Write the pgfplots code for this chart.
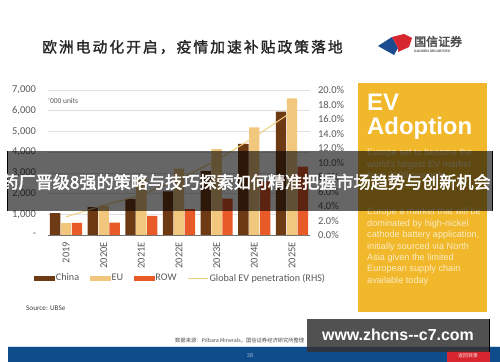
\documentclass[border=0pt]{standalone}
\usepackage{fontspec}
\setmainfont{Carlito}
\newfontfamily\arial{Liberation Sans}
\newfontfamily\cjk{Noto Sans CJK SC}
\newfontfamily\cjkb[FakeBold=2.5]{Noto Sans CJK SC}
\newfontfamily\cjkt[LetterSpace=14,FakeBold=1.6]{Noto Sans CJK SC}
\usepackage{pgfplots}
\pgfplotsset{compat=1.18}
\definecolor{china}{HTML}{6E3A14}
\definecolor{eu}{HTML}{F0C77D}
\definecolor{row}{HTML}{E85A28}
\definecolor{pen}{HTML}{F2D080}
\definecolor{tickgray}{HTML}{595959}
\definecolor{ybox}{HTML}{F0B82A}
\definecolor{ytext}{HTML}{FCEBC4}
\definecolor{footblue}{HTML}{0E4C8C}
\definecolor{logored}{HTML}{D7262E}
\definecolor{logoblue}{HTML}{1B4C8F}
\begin{document}
\begin{tikzpicture}
\useasboundingbox (0,0) rectangle (500bp,362bp);
\fill[white] (0,0) rectangle (500bp,362bp);
% title
\node[anchor=west, inner sep=0, text=black!85, font=\cjkt\fontsize{14.8}{16}\selectfont] at (42bp,315bp) {欧洲电动化开启，疫情加速补贴政策落地};
% logo
\fill[logoblue] (378bp,316bp) -- (392bp,325bp) -- (398bp,314bp) -- (394bp,307bp) -- cycle;
\fill[logored] (392bp,325bp) -- (404bp,328bp) -- (412bp,324bp) -- (409bp,315bp) -- (398bp,310bp) -- (398bp,314bp) -- cycle;
\node[anchor=west, inner sep=0, text=black!70, font=\cjkb\fontsize{12}{13}\selectfont] at (414bp,320.5bp) {国信证券};
\node[anchor=west, inner sep=0, text=black!70, font=\arial\bfseries\fontsize{3.4}{4}\selectfont] at (414bp,310.5bp) {GUOSEN SECURITIES};

% chart
\begin{axis}[
  at={(48bp,127bp)}, anchor=south west, scale only axis,
  width=262bp, height=145bp,
  xmin=-0.48, xmax=6.48, ymin=0, ymax=7000,
  axis x line*=bottom, axis y line*=left,
  y axis line style={draw=none},
  x axis line style={draw=black!55, line width=0.9pt},
  major tick length=0pt,
  ytick={0,1000,2000,3000,4000,5000,6000,7000},
  yticklabels={-,{1,000},{2,000},{3,000},{4,000},{5,000},{6,000},{7,000}},
  ymajorgrids, grid style={draw=black!12, line width=0.6pt},
  xtick={0,1,2,3,4,5,6},
  xticklabels={2019,2020E,2021E,2022E,2023E,2024E,2025E},
  xticklabel style={yshift=-3.5bp, rotate=90, anchor=east, font=\fontsize{10.5}{12}\selectfont, text=tickgray},
  yticklabel style={xshift=-8.5bp, font=\fontsize{10.5}{12}\selectfont, text=tickgray},
  clip=false,
]
\addplot[ybar, bar width=0.275, bar shift=-0.29, fill=china, draw=none] coordinates {(0,1060) (1,1350) (2,1740) (3,2100) (4,3100) (5,4400) (6,5950)};
\addplot[ybar, bar width=0.275, bar shift=0, fill=eu, draw=none] coordinates {(0,570) (1,1400) (2,2700) (3,3200) (4,4150) (5,5200) (6,6600)};
\addplot[ybar, bar width=0.275, bar shift=0.29, fill=row, draw=none] coordinates {(0,580) (1,600) (2,920) (3,1250) (4,1750) (5,2600) (6,3300)};
\end{axis}
\begin{axis}[
  at={(48bp,127bp)}, anchor=south west, scale only axis,
  width=262bp, height=145bp,
  xmin=-0.48, xmax=6.48, ymin=0, ymax=20,
  axis y line*=right, axis x line=none,
  y axis line style={draw=none},
  major tick length=0pt,
  ytick={0,2,4,6,8,10,12,14,16,18,20},
  /pgf/number format/assume math mode=true,
  yticklabel={\pgfmathprintnumber[fixed,fixed zerofill,precision=1]{\tick}\%},
  yticklabel style={xshift=4.5bp, font=\fontsize{10.5}{12}\selectfont, text=tickgray},
  clip=false,
  legend columns=4,
  legend style={at={(0.505,-0.297)}, anchor=center, draw=none, fill=none,
    font=\fontsize{10.2}{12}\selectfont, text=tickgray,
    /tikz/every even column/.append style={column sep=9bp},
    nodes={inner xsep=1.5bp, inner ysep=1bp}},
]
\addlegendimage{legend image code/.code={\fill[china] (0bp,-2.2bp) rectangle (20bp,2.2bp);}}
\addlegendentry{China}
\addlegendimage{legend image code/.code={\fill[eu] (0bp,-2.2bp) rectangle (20bp,2.2bp);}}
\addlegendentry{EU}
\addlegendimage{legend image code/.code={\fill[row] (0bp,-2.2bp) rectangle (20bp,2.2bp);}}
\addlegendentry{ROW}
\addplot[pen, line width=1pt, mark=none, legend image code/.code={\draw[pen, line width=1pt] (0bp,0bp) -- (20bp,0bp);}] coordinates {(0,2.5) (1,4.1) (2,5.5) (3,7.7) (4,10.3) (5,13.5) (6,17.0)};
\addlegendentry{Global EV penetration (RHS)}
\end{axis}
\node[anchor=west, inner sep=0, text=tickgray, font=\fontsize{7.5}{9}\selectfont] at (48bp,261bp) {'000 units};
\node[anchor=west, inner sep=0, text=black!75, font=\fontsize{7.2}{9}\selectfont] at (26bp,54bp) {Source: UBSe};
\node[anchor=west, inner sep=0, text=black!70, font=\cjk\fontsize{5.3}{6}\selectfont] at (175bp,21bp) {数据来源：Pilbara Minerals，国信证券经济研究所整理};

% yellow box
\fill[ybox] (358bp,50bp) rectangle (487bp,279bp);
\node[anchor=base west, inner sep=0, text=white, font=\arial\bfseries\fontsize{24}{26}\selectfont] at (367bp,251bp) {EV};
\node[anchor=base west, inner sep=0, text=white, font=\arial\bfseries\fontsize{24}{26}\selectfont] at (367bp,227bp) {Adoption};
\begin{scope}[every node/.style={anchor=base west, inner sep=0, text=ytext, font=\arial\fontsize{9.2}{11}\selectfont}]
\node at (367bp,206bp) {Europe set to become the};
\node at (367bp,194.5bp) {world's largest EV market};
\node at (367bp,183bp) {from 2020 onwards};
\node at (367bp,147bp) {Europe a market that will be};
\node at (367bp,135.6bp) {dominated by high-nickel};
\node at (367bp,124.2bp) {cathode battery application,};
\node at (367bp,112.8bp) {initially sourced via North};
\node at (367bp,101.4bp) {Asia given the limited};
\node at (367bp,90bp) {European supply chain};
\node at (367bp,78.6bp) {available today};
\end{scope}

% footer
\fill[footblue] (8bp,0bp) rectangle (500bp,15bp);
\draw[white!80!footblue, line width=0.6pt] (8bp,15.3bp) -- (500bp,15.3bp);
\node[text=white!60!footblue, font=\fontsize{6}{7}\selectfont, inner sep=0] at (250bp,7bp) {38};
\fill[logored] (447bp,0bp) rectangle (490bp,12bp);
\node[text=white!85!logored, font=\cjk\fontsize{5}{6}\selectfont, inner sep=0] at (468bp,6bp) {返回目录};

% overlay banner
\fill[black, opacity=0.6] (7bp,151bp) rectangle (493bp,211bp);
\draw[black, line width=1.2pt] (7.6bp,151bp) -- (7.6bp,211bp);
\draw[black, line width=1.2pt] (492.4bp,151bp) -- (492.4bp,211bp);
\node[text=white, font=\cjkb\fontsize{17.2}{18}\selectfont, inner sep=0] at (246bp,180bp) {药厂晋级8强的策略与技巧探索如何精准把握市场趋势与创新机会};

% watermark
\fill[black!80, opacity=0.85] (307bp,10bp) rectangle (490bp,43bp);
\draw[black, line width=1pt] (489.5bp,10bp) -- (489.5bp,43bp);
\node[text=white, font=\arial\bfseries\fontsize{16}{18}\selectfont, inner sep=0] at (398bp,27bp) {www.zhcns--c7.com};
\end{tikzpicture}
\end{document}
